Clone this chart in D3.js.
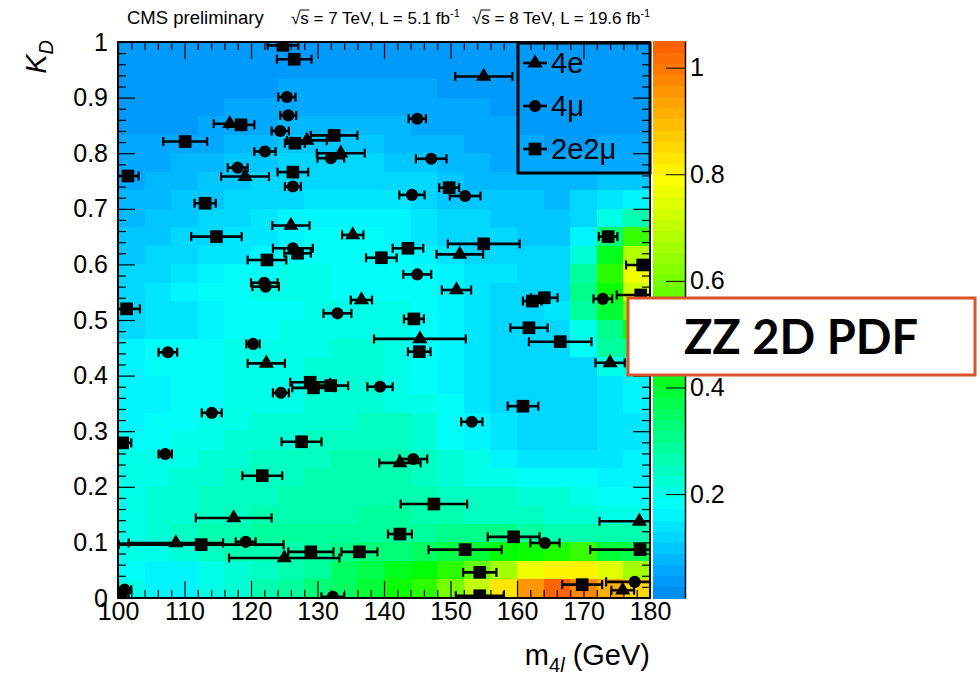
<!DOCTYPE html>
<html>
<head>
<meta charset="utf-8">
<script src="https://cdn.jsdelivr.net/npm/d3@7"></script>
<style>
body { margin: 0; background: #fff; }
text { font-family: "Liberation Sans", Arial, Helvetica, sans-serif; fill: #000; }
</style>
</head>
<body>
<svg id="chart" width="980" height="679"></svg>
<script>
// ZZ background 2D PDF, 4 GeV x 1/30 bins, rows from KD=1 (top) down to KD=0, values x0.01
const massLow = [100, 104, 108, 112, 116, 120, 124, 128, 132, 136, 140, 144, 148, 152, 156, 160, 164, 168, 172, 176];
const pdfRows = [
    [3, 3, 3, 3, 3, 3, 4, 4, 3, 3, 3, 3, 3, 3, 3, 3, 3, 3, 3, 3],
    [4, 4, 4, 4, 4, 4, 4, 4, 4, 4, 4, 4, 4, 4, 4, 3, 3, 3, 3, 3],
    [4, 4, 4, 4, 4, 4, 5, 5, 5, 5, 5, 5, 4, 4, 4, 3, 3, 3, 4, 4],
    [4, 4, 4, 4, 5, 6, 6, 6, 6, 6, 6, 6, 5, 5, 4, 4, 3, 3, 4, 4],
    [4, 4, 4, 5, 6, 6, 7, 7, 7, 7, 7, 6, 6, 5, 5, 4, 3, 3, 4, 4],
    [5, 5, 6, 6, 7, 8, 9, 9, 9, 9, 8, 8, 7, 6, 5, 5, 4, 4, 5, 5],
    [5, 6, 7, 8, 9, 10, 11, 12, 12, 11, 10, 9, 8, 7, 6, 6, 5, 5, 6, 6],
    [6, 7, 8, 9, 10, 11, 12, 13, 13, 13, 12, 11, 9, 8, 8, 8, 7, 8, 9, 9],
    [7, 8, 9, 10, 11, 12, 13, 14, 15, 15, 14, 12, 10, 9, 9, 9, 8, 12, 15, 17],
    [8, 9, 10, 11, 13, 14, 16, 17, 17, 17, 16, 14, 12, 11, 10, 10, 9, 13, 20, 26],
    [9, 10, 11, 12, 14, 15, 17, 18, 18, 18, 17, 15, 13, 11, 11, 10, 10, 16, 32, 52],
    [10, 11, 12, 14, 15, 17, 18, 19, 19, 19, 18, 17, 15, 13, 12, 11, 11, 22, 42, 68],
    [11, 13, 15, 17, 18, 19, 20, 20, 19, 18, 18, 18, 16, 15, 14, 12, 12, 28, 50, 76],
    [12, 14, 16, 18, 19, 20, 20, 20, 19, 18, 18, 18, 16, 14, 13, 12, 12, 30, 45, 72],
    [12, 14, 15, 17, 18, 18, 19, 20, 20, 20, 20, 18, 16, 14, 12, 12, 14, 28, 40, 60],
    [12, 14, 15, 17, 18, 19, 20, 20, 21, 21, 21, 19, 17, 15, 12, 12, 12, 20, 30, 45],
    [16, 18, 18, 19, 20, 20, 20, 21, 22, 22, 21, 19, 17, 15, 12, 12, 12, 18, 28, 30],
    [16, 18, 18, 19, 20, 20, 21, 22, 22, 22, 21, 19, 17, 14, 12, 11, 11, 13, 20, 22],
    [16, 17, 18, 19, 20, 20, 21, 22, 22, 22, 21, 19, 17, 14, 12, 11, 11, 12, 15, 16],
    [16, 17, 18, 19, 20, 21, 21, 22, 22, 22, 21, 20, 18, 15, 12, 11, 11, 12, 15, 16],
    [17, 18, 19, 20, 21, 22, 22, 23, 23, 24, 24, 22, 19, 16, 14, 12, 12, 12, 14, 15],
    [18, 19, 20, 21, 22, 22, 23, 24, 25, 25, 24, 22, 19, 16, 14, 12, 12, 12, 14, 15],
    [20, 20, 21, 22, 23, 24, 25, 25, 26, 26, 26, 24, 22, 20, 17, 15, 15, 15, 15, 16],
    [20, 21, 22, 23, 24, 25, 25, 26, 26, 26, 26, 24, 22, 21, 20, 19, 18, 18, 17, 17],
    [21, 22, 23, 24, 25, 25, 26, 26, 27, 27, 27, 26, 25, 24, 24, 23, 22, 20, 19, 19],
    [21, 22, 23, 24, 25, 26, 26, 27, 27, 28, 28, 27, 26, 25, 25, 24, 23, 22, 21, 21],
    [21, 22, 24, 26, 27, 28, 28, 28, 28, 29, 29, 29, 30, 30, 30, 28, 27, 26, 26, 26],
    [20, 21, 23, 25, 26, 26, 27, 28, 30, 32, 33, 35, 37, 40, 44, 46, 48, 52, 40, 38],
    [19, 16, 17, 21, 23, 25, 27, 29, 34, 38, 41, 43, 50, 58, 66, 76, 82, 80, 74, 66],
    [20, 16, 16, 20, 22, 26, 28, 32, 36, 40, 46, 50, 60, 70, 83, 96, 103, 97, 92, 85]
];

// events: [m4l (GeV), KD, mass error (GeV)]
const events4e = [
    [155.0, 0.938, 4.3], [116.8, 0.853, 2.4], [128.4, 0.823, 3.0], [133.5, 0.800, 3.6],
    [119.1, 0.758, 3.6], [126.0, 0.670, 2.8], [135.3, 0.653, 1.6], [151.4, 0.618, 3.5],
    [150.9, 0.554, 2.2], [136.6, 0.536, 1.6], [145.4, 0.466, 6.9], [122.3, 0.422, 2.8],
    [174.0, 0.423, 2.2], [142.4, 0.243, 3.1], [117.4, 0.144, 5.7], [178.4, 0.138, 6.0],
    [108.7, 0.099, 7.1], [125.0, 0.072, 8.3], [175.9, 0.014, 1.7]
];
const events4mu = [
    [125.4, 0.901, 1.3], [125.6, 0.868, 1.2], [145.0, 0.862, 1.3], [124.4, 0.840, 1.3],
    [122.1, 0.803, 1.6], [132.0, 0.791, 2.0], [147.1, 0.790, 2.3], [118.0, 0.774, 1.5],
    [126.3, 0.740, 1.2], [144.2, 0.725, 1.9], [152.2, 0.723, 2.3], [126.3, 0.629, 3.0],
    [145.0, 0.582, 2.1], [122.0, 0.567, 2.0], [122.2, 0.560, 2.0], [172.9, 0.538, 1.4],
    [133.0, 0.512, 2.1], [120.3, 0.457, 1.0], [107.5, 0.442, 1.4], [139.4, 0.380, 1.9],
    [124.5, 0.369, 1.2], [114.1, 0.333, 1.5], [153.2, 0.317, 1.6], [107.1, 0.259, 1.0],
    [144.4, 0.250, 2.1], [119.2, 0.101, 1.5], [164.2, 0.099, 2.2], [101.0, 0.015, 1.0],
    [100.6, 0.008, 1.0], [132.3, 0.002, 1.7], [177.7, 0.029, 4.3]
];
const events2e2mu = [
    [124.8, 0.994, 2.3], [126.5, 0.969, 2.6], [118.5, 0.851, 2.0], [110.1, 0.821, 3.3],
    [126.6, 0.818, 1.5], [132.5, 0.832, 3.5], [101.5, 0.759, 1.6], [126.3, 0.766, 2.3],
    [113.1, 0.710, 1.6], [149.8, 0.738, 1.5], [114.8, 0.650, 3.8], [155.0, 0.637, 5.4],
    [143.6, 0.629, 2.3], [127.0, 0.620, 2.0], [122.4, 0.608, 2.9], [139.6, 0.612, 2.3],
    [173.7, 0.650, 1.4], [178.9, 0.599, 2.5], [164.1, 0.540, 2.0], [162.3, 0.534, 1.4],
    [178.6, 0.545, 3.6], [101.3, 0.520, 2.0], [144.5, 0.502, 1.5], [161.8, 0.486, 2.8],
    [166.5, 0.461, 4.7], [145.3, 0.443, 1.7], [128.9, 0.388, 3.0], [129.4, 0.378, 3.2],
    [132.0, 0.382, 2.6], [160.9, 0.345, 2.3], [127.6, 0.281, 3.0], [100.7, 0.279, 1.3],
    [121.7, 0.220, 3.0], [147.5, 0.169, 5.0], [142.4, 0.115, 1.8], [159.5, 0.110, 3.9],
    [112.5, 0.096, 12.4], [152.2, 0.087, 5.5], [178.5, 0.087, 7.5], [129.0, 0.083, 3.4],
    [136.3, 0.083, 2.7], [154.4, 0.046, 2.5], [169.8, 0.024, 3.0], [154.4, 0.004, 3.6]
];

const xTicks = [100, 110, 120, 130, 140, 150, 160, 170, 180];
const yTicks = [0, 0.1, 0.2, 0.3, 0.4, 0.5, 0.6, 0.7, 0.8, 0.9, 1];
const zTicks = [0.2, 0.4, 0.6, 0.8, 1];
const paletteStops = [0, 0.02, 0.045, 0.175, 0.32, 0.44, 0.79, 0.89, 1.0, 1.05];
const paletteColors = ["#0088ec", "#0090f0", "#00a0ff", "#00ffff", "#00ff80", "#00ff00", "#ffff00", "#ffc000", "#ff7800", "#ff5c00"];

const svg = d3.select("#chart");
const plotL = 118, plotR = 650, plotT = 42, plotB = 598;

const x = d3.scaleLinear().domain([100, 180]).range([plotL, plotR]);
const y = d3.scaleLinear().domain([0, 1]).range([plotB, plotT]);

const zMin = 0.005, zMax = 1.05, nLevels = 50;
const zScale = d3.scaleLinear().domain([zMin, zMax]).range([plotB, 41]);
const palette = d3.scaleLinear().domain(paletteStops).range(paletteColors)
    .interpolate(d3.interpolateRgb).clamp(true);
const step = (zMax - zMin) / nLevels;
const levelColor = (z) => {
    let i = Math.floor((z - zMin) / step);
    i = Math.max(0, Math.min(nLevels - 1, i));
    return palette(zMin + (i + 0.5) * step);
};

// heat map
const nRows = pdfRows.length;
const binW = massLow[1] - massLow[0];
const cells = [];
pdfRows.forEach((row, r) => {
    row.forEach((v, c) => {
        cells.push({ m0: massLow[c], kTop: 1 - r / nRows, kBot: 1 - (r + 1) / nRows, z: v / 100 });
    });
});

svg.append("g")
    .selectAll("rect")
    .data(cells)
    .enter()
    .append("rect")
    .attr("x", d => x(d.m0))
    .attr("y", d => y(d.kTop))
    .attr("width", d => x(d.m0 + binW) - x(d.m0) + 0.5)
    .attr("height", d => y(d.kBot) - y(d.kTop) + 0.5)
    .attr("fill", d => levelColor(d.z))
    .attr("shape-rendering", "crispEdges");

// colour bar
const bands = d3.range(nLevels);
svg.append("g")
    .selectAll("rect")
    .data(bands)
    .enter()
    .append("rect")
    .attr("x", 653)
    .attr("width", 32)
    .attr("y", i => zScale(zMin + (i + 1) * step))
    .attr("height", i => zScale(zMin + i * step) - zScale(zMin + (i + 1) * step) + 0.5)
    .attr("fill", i => palette(zMin + (i + 0.5) * step))
    .attr("shape-rendering", "crispEdges");

const zAxis = svg.append("g")
    .attr("transform", "translate(685,0)")
    .call(d3.axisRight(zScale).tickValues(zTicks).tickSize(-19).tickSizeOuter(0)
        .tickPadding(5).tickFormat(d3.format("~g")));
zAxis.select(".domain").attr("stroke-width", 1.5);
zAxis.selectAll("text").style("font-size", "25px").style("font-family", "'Liberation Sans', Arial, sans-serif");

// axes: ticks inside the frame on all four sides
const xMinor = d3.range(100, 181, 2).filter(v => v % 10 !== 0);
const yMinor = d3.range(0, 51).filter(i => i % 5 !== 0).map(i => i / 50);

const styleAxis = (g) => {
    g.select(".domain").remove();
    g.selectAll(".tick line").attr("stroke-width", 1.2);
    g.selectAll("text").style("font-size", "25px").style("font-family", "'Liberation Sans', Arial, sans-serif");
};

svg.append("g").attr("transform", `translate(0,${plotB})`)
    .call(d3.axisBottom(x).tickValues(xTicks).tickSize(-17).tickPadding(4).tickFormat(d3.format("d")))
    .call(styleAxis);
svg.append("g").attr("transform", `translate(0,${plotB})`)
    .call(d3.axisBottom(x).tickValues(xMinor).tickSize(-8).tickFormat(""))
    .call(styleAxis);
svg.append("g").attr("transform", `translate(0,${plotT})`)
    .call(d3.axisTop(x).tickValues(xTicks).tickSize(-17).tickFormat(""))
    .call(styleAxis);
svg.append("g").attr("transform", `translate(0,${plotT})`)
    .call(d3.axisTop(x).tickValues(xMinor).tickSize(-8).tickFormat(""))
    .call(styleAxis);

svg.append("g").attr("transform", `translate(${plotL},0)`)
    .call(d3.axisLeft(y).tickValues(yTicks).tickSize(-17).tickPadding(10).tickFormat(d3.format("~g")))
    .call(styleAxis);
svg.append("g").attr("transform", `translate(${plotL},0)`)
    .call(d3.axisLeft(y).tickValues(yMinor).tickSize(-8).tickFormat(""))
    .call(styleAxis);
svg.append("g").attr("transform", `translate(${plotR},0)`)
    .call(d3.axisRight(y).tickValues(yTicks).tickSize(-17).tickFormat(""))
    .call(styleAxis);
svg.append("g").attr("transform", `translate(${plotR},0)`)
    .call(d3.axisRight(y).tickValues(yMinor).tickSize(-8).tickFormat(""))
    .call(styleAxis);

// frame
svg.append("rect")
    .attr("x", plotL).attr("y", plotT)
    .attr("width", plotR - plotL).attr("height", plotB - plotT)
    .attr("fill", "none").attr("stroke", "#000").attr("stroke-width", 2);

// events
svg.append("clipPath").attr("id", "frameClip")
    .append("rect").attr("x", plotL).attr("y", plotT)
    .attr("width", plotR - plotL).attr("height", plotB - plotT);

const channels = [
    { name: "4e", data: events4e, symbol: d3.symbolTriangle, size: 100 },
    { name: "4\u03bc", data: events4mu, symbol: d3.symbolCircle, size: 115 },
    { name: "2e2\u03bc", data: events2e2mu, symbol: d3.symbolSquare, size: 160 }
];

const pts = svg.append("g").attr("clip-path", "url(#frameClip)");
const capH = 9;
channels.forEach(ch => {
    const g = pts.append("g");
    const ev = g.selectAll("g").data(ch.data).enter().append("g");
    ev.append("line")
        .attr("x1", d => x(d[0] - d[2])).attr("x2", d => x(d[0] + d[2]))
        .attr("y1", d => y(d[1])).attr("y2", d => y(d[1]))
        .attr("stroke", "#000").attr("stroke-width", 2.6);
    ev.append("line")
        .attr("x1", d => x(d[0] - d[2])).attr("x2", d => x(d[0] - d[2]))
        .attr("y1", d => y(d[1]) - capH / 2).attr("y2", d => y(d[1]) + capH / 2)
        .attr("stroke", "#000").attr("stroke-width", 2.2);
    ev.append("line")
        .attr("x1", d => x(d[0] + d[2])).attr("x2", d => x(d[0] + d[2]))
        .attr("y1", d => y(d[1]) - capH / 2).attr("y2", d => y(d[1]) + capH / 2)
        .attr("stroke", "#000").attr("stroke-width", 2.2);
    ev.append("path")
        .attr("d", d3.symbol().type(ch.symbol).size(ch.size))
        .attr("transform", d => `translate(${x(d[0])},${y(d[1])})`)
        .attr("fill", "#000");
});

// legend
const legend = svg.append("g");
legend.append("rect")
    .attr("x", 518).attr("y", 43).attr("width", 132).attr("height", 130)
    .attr("fill", "none").attr("stroke", "#000").attr("stroke-width", 3);
channels.forEach((ch, i) => {
    const ly = 63 + i * 43;
    legend.append("line").attr("x1", 523).attr("x2", 547).attr("y1", ly).attr("y2", ly)
        .attr("stroke", "#000").attr("stroke-width", 2.6);
    legend.append("path")
        .attr("d", d3.symbol().type(ch.symbol).size(ch.size))
        .attr("transform", `translate(535,${ly})`);
    legend.append("text").attr("x", 551).attr("y", ly + 10)
        .style("font-size", "29px").text(ch.name);
});

// header
svg.append("text").attr("x", 127).attr("y", 24).style("font-size", "18.5px").text("CMS preliminary");
const lumiLabel = (xPos, energy, lumi) => {
    const t = svg.append("text").attr("x", xPos).attr("y", 24).style("font-size", "17px");
    t.append("tspan").text("\u221a");
    t.append("tspan").text("s");
    t.append("tspan").text(` = ${energy} TeV, L = ${lumi} fb`);
    t.append("tspan").attr("dy", -7).style("font-size", "11px").text("-1");
    const n = t.node();
    const x0 = n.getStartPositionOfChar(1).x, x1 = n.getEndPositionOfChar(1).x;
    svg.append("line").attr("x1", x0 - 1).attr("x2", x1 + 0.5).attr("y1", 10).attr("y2", 10)
        .attr("stroke", "#000").attr("stroke-width", 1);
};
lumiLabel(291, 7, "5.1");
lumiLabel(472, 8, "19.6");

// axis titles
const yTitle = svg.append("text")
    .attr("transform", "translate(46,40) rotate(-90)")
    .attr("text-anchor", "end")
    .style("font-size", "29px").style("font-style", "italic");
yTitle.append("tspan").text("K");
yTitle.append("tspan").attr("dy", 7).style("font-size", "20px").text("D");

const xTitle = svg.append("text")
    .attr("x", 650).attr("y", 665)
    .attr("text-anchor", "end")
    .style("font-size", "29px");
xTitle.append("tspan").text("m");
xTitle.append("tspan").attr("dy", 7).style("font-size", "20px").text("4");
xTitle.append("tspan").style("font-size", "20px").style("font-style", "italic").text("l");
xTitle.append("tspan").attr("dy", -7).text(" (GeV)");

// annotation box
svg.append("rect")
    .attr("x", 628).attr("y", 298).attr("width", 347).attr("height", 77)
    .attr("fill", "#fff").attr("stroke", "#d9532b").attr("stroke-width", 3);
svg.append("text")
    .attr("x", 801).attr("y", 354)
    .attr("text-anchor", "middle")
    .style("font-family", "Lato, 'Open Sans', sans-serif")
    .style("font-weight", "bold")
    .style("font-size", "47px")
    .text("ZZ 2D PDF");
</script>
</body>
</html>
